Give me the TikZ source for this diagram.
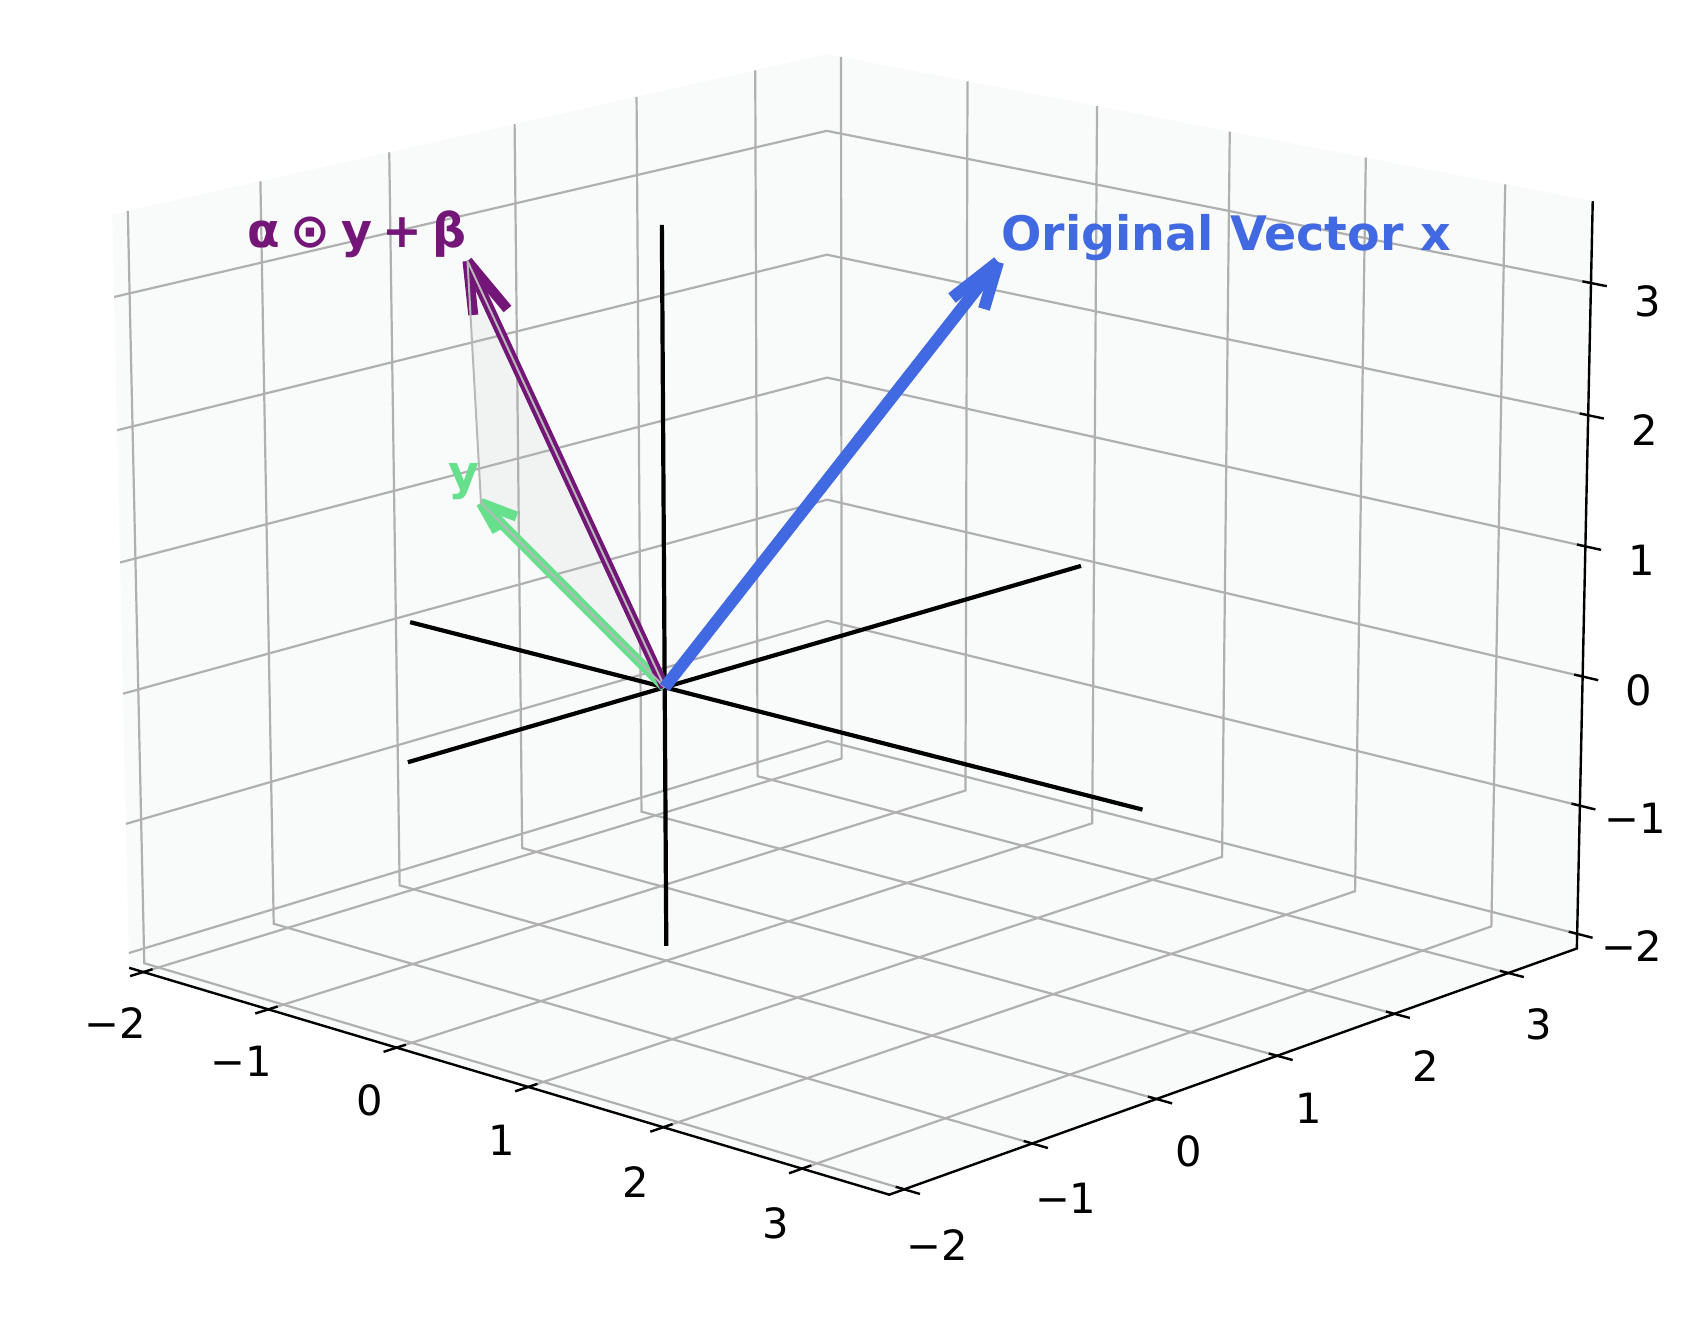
\documentclass[tikz,border=0pt]{standalone}
\usepackage{fontspec}
\setmainfont{DejaVu Sans}
\definecolor{panec}{HTML}{F9FAFA}
\definecolor{gridc}{HTML}{B0B0B0}
\definecolor{triedge}{HTML}{B8B8B8}
\definecolor{vblue}{HTML}{4169E1}
\definecolor{vgreen}{HTML}{66E08C}
\definecolor{vpurple}{HTML}{731678}
\newcommand\PP[4]{%
  \pgfmathsetmacro\pd{1-0.0126*(#2)+0.0141*(#3)-0.0039*(#4)}%
  \pgfmathsetmacro\pu{664.7+(130.5*(#2)+124.8*(#3)-0.8*(#4))/\pd}%
  \pgfmathsetmacro\pv{687.3+(33.4*(#2)-36.4*(#3)-130.3*(#4))/\pd}%
  \coordinate (#1) at (\pu,\pv);}
\def\lo{-2.115}
\def\hi{3.615}
\newcommand\gp{\hspace{0.22em}}
\tikzset{
  gridline/.style={draw=gridc,line width=2.2pt},
  axisline/.style={draw=black,line width=2.4pt},
  coordline/.style={draw=black,line width=4.2pt},
  ticklab/.style={font=\fontsize{41.67}{50}\selectfont,inner sep=0pt,anchor=center},
  veclab/.style={font=\fontsize{47.5}{57}\selectfont\bfseries,inner sep=0pt},
  bluevec/.style={draw=vblue,line width=12pt},
  greenvec/.style={draw=vgreen,line width=10pt},
  purplevec/.style={draw=vpurple,line width=10pt},
}
\begin{document}
\begin{tikzpicture}[x=1pt,y=-1pt]
\useasboundingbox (0,0) rectangle (1704,1342);
\fill[white] (0,0) rectangle (1704,1342);
% panes
\PP{c000}{\lo}{\lo}{\lo}\PP{c100}{\hi}{\lo}{\lo}\PP{c110}{\hi}{\hi}{\lo}\PP{c010}{\lo}{\hi}{\lo}
\PP{c001}{\lo}{\lo}{\hi}\PP{c011}{\lo}{\hi}{\hi}\PP{c111}{\hi}{\hi}{\hi}
\fill[panec] (c000)--(c010)--(c011)--(c001)--cycle;
\fill[panec] (c010)--(c110)--(c111)--(c011)--cycle;
\fill[panec] (c000)--(c100)--(c110)--(c010)--cycle;
% grid
\foreach \tv in {-2,...,3}{
  \PP{g1}{\tv}{\lo}{\lo}\PP{g2}{\tv}{\hi}{\lo}\PP{g3}{\tv}{\hi}{\hi}
  \draw[gridline] (g1)--(g2)--(g3);
  \PP{h1}{\hi}{\tv}{\lo}\PP{h2}{\lo}{\tv}{\lo}\PP{h3}{\lo}{\tv}{\hi}
  \draw[gridline] (h1)--(h2)--(h3);
  \PP{k1}{\lo}{\lo}{\tv}\PP{k2}{\lo}{\hi}{\tv}\PP{k3}{\hi}{\hi}{\tv}
  \draw[gridline] (k1)--(k2)--(k3);
}
% axis lines
\draw[axisline] (c000)--(c100)--(c110)--(c111);
% ticks
\foreach \tv in {-2,...,3}{
  \PP{xa}{\tv}{\lo+0.07}{\lo}\PP{xb}{\tv}{\lo-0.1}{\lo}
  \draw[axisline] (xa)--(xb);
  \PP{ya}{\hi-0.06}{\tv}{\lo}\PP{yb}{\hi+0.11}{\tv}{\lo}
  \draw[axisline] (ya)--(yb);
  \PP{za}{\hi-0.06}{\hi}{\tv}\PP{zb}{\hi+0.11}{\hi}{\tv}
  \draw[axisline] (za)--(zb);
}
% tick labels
\node[ticklab] (xl1) at (115.2,1023.3) {−2};
\node[ticklab] (xl2) at (241.5,1061.7) {−1};
\node[ticklab] (xl3) at (370,1100) {0};
\node[ticklab] (xl4) at (501.7,1140.7) {1};
\node[ticklab] (xl5) at (635.6,1181.7) {2};
\node[ticklab] (xl6) at (775.4,1223.3) {3};
\node[ticklab] (yl1) at (937.5,1245) {−2};
\node[ticklab] (yl2) at (1065.7,1198.3) {−1};
\node[ticklab] (yl3) at (1188.6,1151.7) {0};
\node[ticklab] (yl4) at (1308.9,1108.3) {1};
\node[ticklab] (yl5) at (1425.5,1065.7) {2};
\node[ticklab] (yl6) at (1539,1024) {3};
\node[ticklab] (zl1) at (1631.7,946.3) {−2};
\node[ticklab] (zl2) at (1635,817.8) {−1};
\node[ticklab] (zl3) at (1638.3,690.2) {0};
\node[ticklab] (zl4) at (1641.7,560.1) {1};
\node[ticklab] (zl5) at (1644.3,430) {2};
\node[ticklab] (zl6) at (1647.7,300.9) {3};
% coordinate lines
\PP{O}{0}{0}{0}
\PP{xm}{-2}{0}{0}\PP{xp}{3.5}{0}{0}
\PP{ym}{0}{-2}{0}\PP{yp}{0}{3.5}{0}
\PP{zm}{0}{0}{-2}\PP{zp}{0}{0}{3.5}
\draw[coordline] (xm)--(xp);
\draw[coordline] (ym)--(yp);
\draw[coordline] (zm)--(zp);
% vector tips and barbs
\coordinate (gt) at (481,503);
\coordinate (gb1) at (497,531.5);
\coordinate (gb2) at (516.5,516.5);
\coordinate (pt) at (467.5,261);
\coordinate (pb1) at (473.3,315);
\coordinate (pb2) at (507.5,309);
\coordinate (bt) at (998,262);
\coordinate (bb1) at (952,298);
\coordinate (bb2) at (984,309);
% triangle fill
\fill[lightgray,opacity=0.13] (O)--(gt)--(pt)--cycle;
% green
\draw[greenvec] (O)--(gt);
\draw[greenvec] (gt)--(gb1);
\draw[greenvec] (gt)--(gb2);
% purple
\draw[purplevec] (O)--(pt);
\draw[purplevec] (pt)--(pb1);
\draw[purplevec] (pt)--(pb2);
% triangle edges
\draw[draw=triedge,line width=2pt,line join=round] (O)--(gt)--(pt)--cycle;
% blue
\draw[bluevec] (O)--(bt);
\draw[bluevec] (bt)--(bb1);
\draw[bluevec] (bt)--(bb2);
% labels
\node[veclab,text=vblue,anchor=base west] (lx) at (1001,250) {Original Vector x};
\node[veclab,text=vpurple,anchor=base east] (la) at (467,247) {α\gp⊙\gp y\gp+\gp β};
\node[veclab,text=vgreen,anchor=base east] (ly) at (480,489) {y};
\end{tikzpicture}
\end{document}
